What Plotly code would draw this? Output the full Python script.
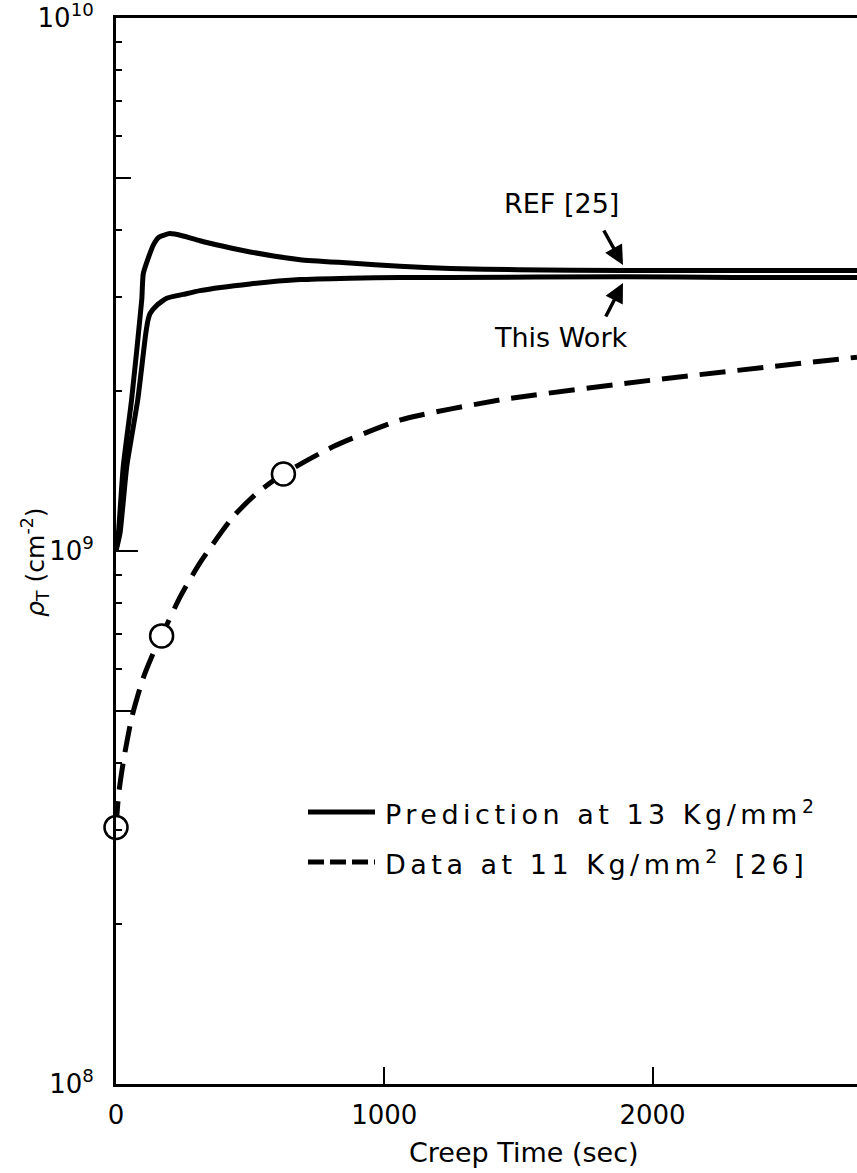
import plotly.graph_objects as go

# ---- data ----
ref_t = [0, 9, 27, 58, 96, 102, 139, 160, 201, 250, 313, 400, 500, 686, 872, 1058, 1245, 1500, 1890, 2300, 2762]
ref_rho = [1.0e9, 1.08e9, 1.44e9, 1.92e9, 2.96e9, 3.32e9, 3.75e9, 3.88e9, 3.94e9, 3.90e9, 3.82e9, 3.73e9,
           3.64e9, 3.52e9, 3.47e9, 3.42e9, 3.39e9, 3.37e9, 3.36e9, 3.36e9, 3.36e9]

work_t = [0, 15, 40, 81, 111, 120, 127, 152, 189, 251, 313, 500, 686, 872, 1058, 1245, 1890, 2300, 2762]
work_rho = [1.0e9, 1.08e9, 1.44e9, 1.92e9, 2.56e9, 2.72e9, 2.79e9, 2.89e9, 2.98e9, 3.03e9, 3.08e9, 3.17e9,
            3.23e9, 3.25e9, 3.26e9, 3.26e9, 3.27e9, 3.26e9, 3.26e9]

data_t = [0, 10, 30, 60, 100, 140, 170, 239, 313, 437, 530, 624, 810, 1058, 1431, 1990, 2762]
data_rho = [3.03e8, 3.5e8, 4.1e8, 4.9e8, 5.75e8, 6.45e8, 6.93e8, 8.2e8, 9.5e8, 1.16e9, 1.29e9, 1.395e9,
            1.57e9, 1.76e9, 1.92e9, 2.09e9, 2.31e9]

pts_t = [0, 170, 624]
pts_rho = [3.03e8, 6.93e8, 1.395e9]

x_ticks = [0, 1000, 2000]
x_ticktext = ["0", "1000", "2000"]
y_major = [1e8, 1e9, 1e10]
y_major_text = ["10<sup>8</sup>", "10<sup>9</sup>", "10<sup>10</sup>"]
y_mid = [5e8, 5e9]
y_minor = [2e8, 3e8, 4e8, 6e8, 7e8, 8e8, 9e8, 2e9, 3e9, 4e9, 6e9, 7e9, 8e9, 9e9]

FONT = "DejaVu Sans"

fig = go.Figure()
fig.add_trace(go.Scatter(x=ref_t, y=ref_rho, mode="lines", line=dict(color="black", width=5, shape="spline", smoothing=0.5),
                         showlegend=False, name="REF [25]"))
fig.add_trace(go.Scatter(x=work_t, y=work_rho, mode="lines", line=dict(color="black", width=5, shape="spline", smoothing=0.5),
                         showlegend=False, name="This Work"))
fig.add_trace(go.Scatter(x=data_t, y=data_rho, mode="lines", line=dict(color="black", width=5, dash="26px,12px", shape="spline", smoothing=0.6),
                         showlegend=False, name="Data"))
fig.add_trace(go.Scatter(x=pts_t, y=pts_rho, mode="markers",
                         marker=dict(symbol="circle", size=23, color="white", line=dict(color="black", width=2.5)),
                         showlegend=False, cliponaxis=False))
# helper trace for the mid-decade ticks
fig.add_trace(go.Scatter(x=[None], y=[None], yaxis="y2", showlegend=False))

fig.update_layout(
    width=857, height=1173,
    margin=dict(l=116, r=0, t=18, b=89),
    paper_bgcolor="white", plot_bgcolor="white",
    font=dict(family=FONT, color="black", size=26),
    xaxis=dict(range=[0, 2762], tickvals=x_ticks, ticktext=x_ticktext, ticks="inside", ticklen=17, tickwidth=2,
               tickcolor="black", showline=True, linewidth=3, linecolor="black", mirror=True, showgrid=False,
               zeroline=False, ticklabelstandoff=6, tickfont=dict(size=26, family=FONT)),
    yaxis=dict(type="log", range=[8, 10], tickvals=y_major, ticktext=y_major_text, ticks="inside", ticklen=22,
               tickwidth=2, tickcolor="black", showline=True, linewidth=3, linecolor="black", showgrid=False,
               zeroline=False, ticklabelstandoff=14, ticklabeloverflow="allow", tickfont=dict(size=26, family=FONT),
               minor=dict(tickvals=y_minor, ticks="inside", ticklen=6, tickwidth=2, tickcolor="black", showgrid=False)),
    yaxis2=dict(type="log", range=[8, 10], overlaying="y", side="left", anchor="x", tickvals=y_mid, ticks="inside",
                ticklen=15, tickwidth=2, tickcolor="black", showticklabels=False, showgrid=False, showline=False,
                zeroline=False),
)

def px(xp):
    return (xp - 116) / 741.0

def py(yp):
    return (1084 - yp) / 1066.0

def note(text, xp, yp, size=27, xanchor="center", **kw):
    return dict(text=text, x=px(xp), y=py(yp), xref="paper", yref="paper", showarrow=False,
                xanchor=xanchor, yanchor="middle", align="left" if xanchor == "left" else "center",
                font=dict(size=size, family=FONT), **kw)

ann = [
    note("REF [25]", 561, 203),
    note("This Work", 560, 337),
    note("Prediction at 13 Kg/mm<sup>2</sup>", 383, 812, size=27, xanchor="left"),
    note("Data at 11 Kg/mm<sup>2</sup> [26]", 383, 862, size=27, xanchor="left"),
    note("<i>ρ</i><sub>T</sub> (cm<sup>-2</sup>)", 35, 562, size=25, textangle=-90),
    note("Creep Time (sec)", 524, 1152),
]
# arrows
ann.append(dict(text="", x=px(623), y=py(265), xref="paper", yref="paper", showarrow=True, ax=-20, ay=-36,
                arrowhead=2, arrowsize=1.1, arrowwidth=3.5, arrowcolor="black"))
ann.append(dict(text="", x=px(623), y=py(283), xref="paper", yref="paper", showarrow=True, ax=-18, ay=35,
                arrowhead=2, arrowsize=1.1, arrowwidth=3.5, arrowcolor="black"))
fig.update_layout(annotations=ann)

# legend sample lines
fig.add_shape(type="line", xref="paper", yref="paper", x0=px(308), x1=px(375), y0=py(812), y1=py(812),
              line=dict(color="black", width=5))
fig.add_shape(type="line", xref="paper", yref="paper", x0=px(308), x1=px(375), y0=py(862), y1=py(862),
              line=dict(color="black", width=5, dash="16px,6px"))

# page without the default body margin; the key lettering is widely spaced in the reference
post = """
document.body.style.margin = '0';
document.body.style.padding = '0';
document.documentElement.style.overflow = 'hidden';
document.querySelectorAll('.annotation-text').forEach(function(el){
  var t = el.textContent || '';
  if (t.indexOf('Prediction') === 0 || t.indexOf('Data at') === 0) { el.style.letterSpacing = '4.5px'; }
});
"""
fig.write_html("out.html", post_script=post, config={"displayModeBar": False})
